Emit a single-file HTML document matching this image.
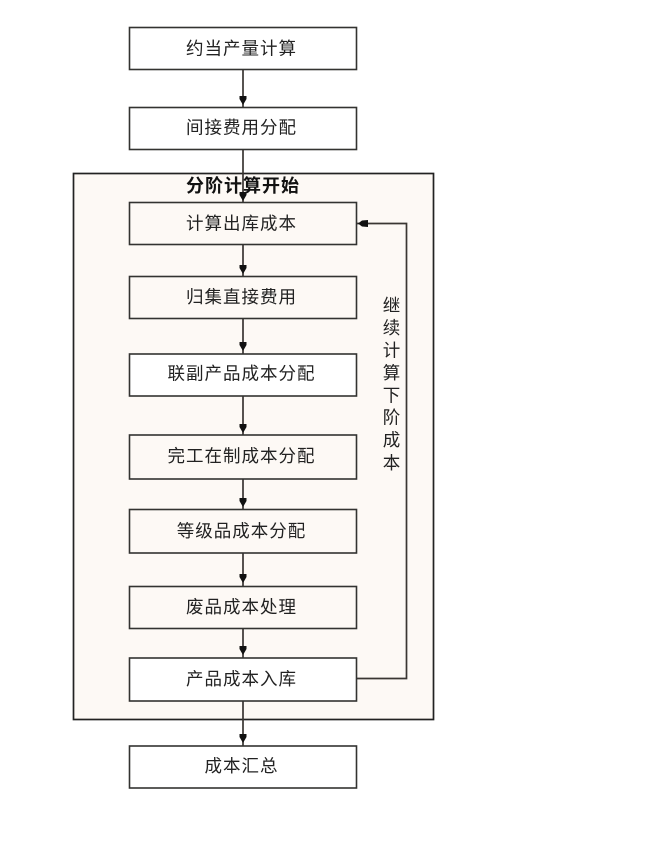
<!DOCTYPE html>
<html lang="zh">
<head>
<meta charset="utf-8">
<style>
html,body{margin:0;padding:0;background:#fff;width:664px;height:841px;overflow:hidden}
svg{display:block;filter:blur(.35px)}
text{font-family:"Liberation Sans","Noto Sans CJK SC",sans-serif;font-size:17.500px;fill:#222;text-anchor:middle;letter-spacing:1px}
.b{fill:#fff;stroke:#333331;stroke-width:1.6}
.c{fill:#fdf9f5;stroke:#333331;stroke-width:1.6}
.l{stroke:#3a3633;stroke-width:1.700;fill:none}
.a{fill:#111}
</style>
</head>
<body>
<svg width="664" height="841" viewBox="0 0 664 841" xmlns="http://www.w3.org/2000/svg">
<rect x="73.500" y="173.500" width="360" height="546" fill="#fdf9f5" stroke="#222" stroke-width="1.700"/>

<path class="l" d="M243 69.500V107M243 149.500V202.500M243 244.500V276.500M243 319V354M243 396V435M243 479V509M243 553V586M243 629V658M243 701V746"/>
<path class="l" d="M356 678.500H406.500V223.500H356"/>

<rect class="b" x="129.500" y="27.500" width="227" height="42"/>
<rect class="b" x="129.500" y="107.500" width="227" height="42"/>
<rect class="c" x="129.500" y="202.500" width="227" height="42"/>
<rect class="c" x="129.500" y="276.500" width="227" height="42"/>
<rect class="b" x="129.500" y="354" width="227" height="42"/>
<rect class="c" x="129.500" y="435" width="227" height="44"/>
<rect class="c" x="129.500" y="509.500" width="227" height="43.500"/>
<rect class="c" x="129.500" y="586.500" width="227" height="42"/>
<rect class="b" x="129.500" y="658" width="227" height="43"/>
<rect class="b" x="129.500" y="746" width="227" height="42"/>

<path class="a" d="M239.500 96H246.500V99L243 105L239.500 99ZM239.500 192H246.500V195L243 201L239.500 195ZM239.500 265H246.500V268L243 274L239.500 268ZM239.500 342H246.500V345L243 351L239.500 345ZM239.500 424H246.500V427L243 433L239.500 427ZM239.500 498H246.500V501L243 507L239.500 501ZM239.500 574H246.500V577L243 583L239.500 577ZM239.500 646H246.500V649L243 655L239.500 649ZM239.500 734H246.500V737L243 743L239.500 737ZM368 220V227L362 226.500L358 223.500L362 220.500Z"/>

<text x="241.500" y="54.500">约当产量计算</text>
<text x="241.500" y="133.500">间接费用分配</text>
<text x="243" y="192" style="font-weight:700;fill:#111;font-size:18px">分阶计算开始</text>
<text x="241.500" y="229.500">计算出库成本</text>
<text x="241.500" y="303">归集直接费用</text>
<text x="241.500" y="379.500">联副产品成本分配</text>
<text x="241.500" y="462">完工在制成本分配</text>
<text x="241.500" y="537">等级品成本分配</text>
<text x="241.500" y="613">废品成本处理</text>
<text x="241.500" y="685">产品成本入库</text>
<text x="241.500" y="772">成本汇总</text>

<text x="392" y="311.500">继</text>
<text x="392" y="334">续</text>
<text x="392" y="356.500">计</text>
<text x="392" y="379">算</text>
<text x="392" y="401.500">下</text>
<text x="392" y="423.500">阶</text>
<text x="392" y="446">成</text>
<text x="392" y="469">本</text>
</svg>
</body>
</html>
